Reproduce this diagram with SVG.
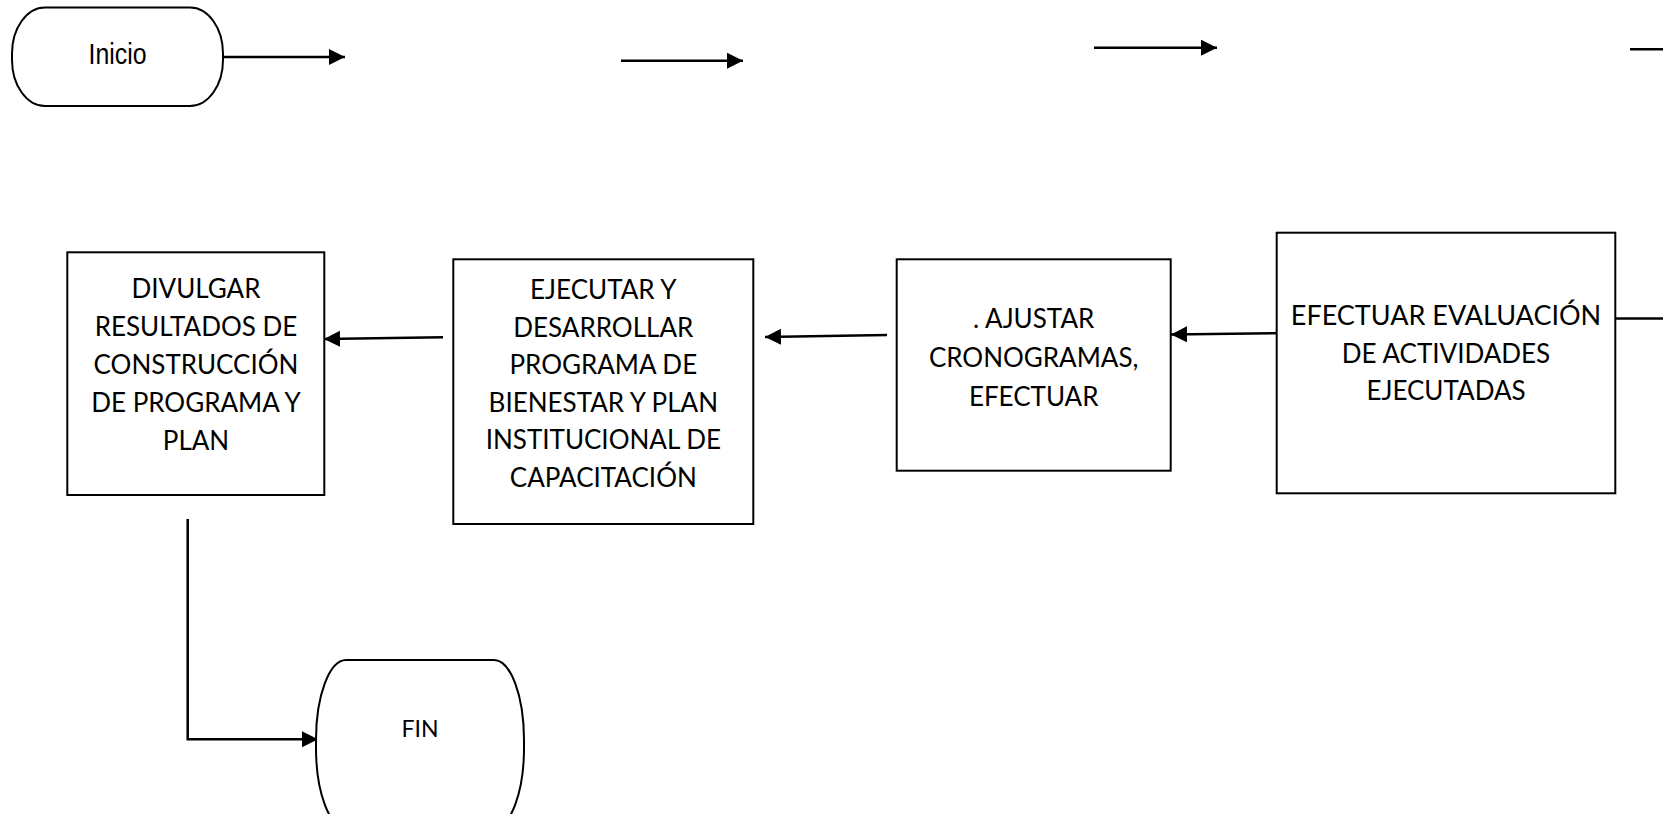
<svg xmlns="http://www.w3.org/2000/svg" width="1663" height="814" viewBox="0 0 1663 814">
  <style>
    .shape { fill: #ffffff; stroke: #000000; stroke-width: 2; }
    .link { fill: none; stroke: #000000; stroke-width: 2.5; }
    .label { font-family: Lato, "Open Sans", sans-serif; font-size: 26px; fill: #000000; text-anchor: middle; }
    .narrow { font-family: "Liberation Sans Narrow", "Liberation Sans", Arial, sans-serif; font-size: 30px; fill: #000000; text-anchor: middle; }
  </style>
  <defs>
    <marker id="arrow" markerUnits="userSpaceOnUse" markerWidth="16" markerHeight="16" refX="16" refY="8" orient="auto">
      <path d="M0,0 L16,8 L0,16 Z" fill="#000000"/>
    </marker>
  </defs>

  <rect width="1663" height="814" fill="#ffffff"/>

  <!-- connectors -->
  <g id="connectors">
    <line class="link" x1="223" y1="57" x2="345" y2="57" marker-end="url(#arrow)"/>
    <line class="link" x1="621" y1="60.7" x2="743" y2="60.7" marker-end="url(#arrow)"/>
    <line class="link" x1="1094" y1="47.7" x2="1217" y2="47.7" marker-end="url(#arrow)"/>
    <line class="link" x1="1630" y1="49.3" x2="1663" y2="49.3"/>
    <line class="link" x1="1616" y1="318.5" x2="1663" y2="318.5"/>
    <line class="link" x1="1294" y1="333" x2="1171" y2="334.5" marker-end="url(#arrow)"/>
    <line class="link" x1="887" y1="335" x2="765" y2="337" marker-end="url(#arrow)"/>
    <line class="link" x1="443" y1="337.3" x2="324" y2="339" marker-end="url(#arrow)"/>
    <polyline class="link" points="187.7,519 187.7,739.3 318,739.3" marker-end="url(#arrow)"/>
  </g>

  <!-- start terminator -->
  <g id="node-inicio">
    <rect class="shape" x="12" y="7.5" width="211" height="98.5" rx="33" ry="46"/>
    <text class="narrow" x="117.5" y="63.5" textLength="58" lengthAdjust="spacingAndGlyphs">Inicio</text>
  </g>

  <!-- publish results -->
  <g id="node-divulgar">
    <rect class="shape" x="67.3" y="252.3" width="257" height="242.7"/>
    <text class="label" x="196" y="297.5">DIVULGAR</text>
    <text class="label" x="196" y="335.5">RESULTADOS DE</text>
    <text class="label" x="196" y="373.5">CONSTRUCCIÓN</text>
    <text class="label" x="196" y="411.5">DE PROGRAMA Y</text>
    <text class="label" x="196" y="449.5">PLAN</text>
  </g>

  <!-- execute programme -->
  <g id="node-ejecutar">
    <rect class="shape" x="453.3" y="259.3" width="300" height="264.7"/>
    <text class="label" x="603.3" y="299">EJECUTAR Y</text>
    <text class="label" x="603.3" y="336.7">DESARROLLAR</text>
    <text class="label" x="603.3" y="374.2">PROGRAMA DE</text>
    <text class="label" x="603.3" y="411.7">BIENESTAR Y PLAN</text>
    <text class="label" x="603.3" y="449.2">INSTITUCIONAL DE</text>
    <text class="label" x="603.3" y="486.7">CAPACITACIÓN</text>
  </g>

  <!-- adjust schedules -->
  <g id="node-ajustar">
    <rect class="shape" x="896.7" y="259.3" width="274" height="211.4"/>
    <text class="label" x="1033.7" y="328">. AJUSTAR</text>
    <text class="label" x="1033.7" y="367">CRONOGRAMAS,</text>
    <text class="label" x="1033.7" y="406">EFECTUAR</text>
  </g>

  <!-- evaluate activities -->
  <g id="node-efectuar">
    <rect class="shape" x="1276.7" y="232.7" width="338.6" height="260.6"/>
    <text class="label" x="1446" y="325" style="font-size:27px">EFECTUAR EVALUACIÓN</text>
    <text class="label" x="1446" y="363">DE ACTIVIDADES</text>
    <text class="label" x="1446" y="400">EJECUTADAS</text>
  </g>

  <!-- end terminator -->
  <g id="node-fin">
    <rect class="shape" x="316" y="660" width="208" height="168" rx="30" ry="80"/>
    <text class="label" x="420" y="736.7" style="font-size:23px">FIN</text>
  </g>
</svg>
